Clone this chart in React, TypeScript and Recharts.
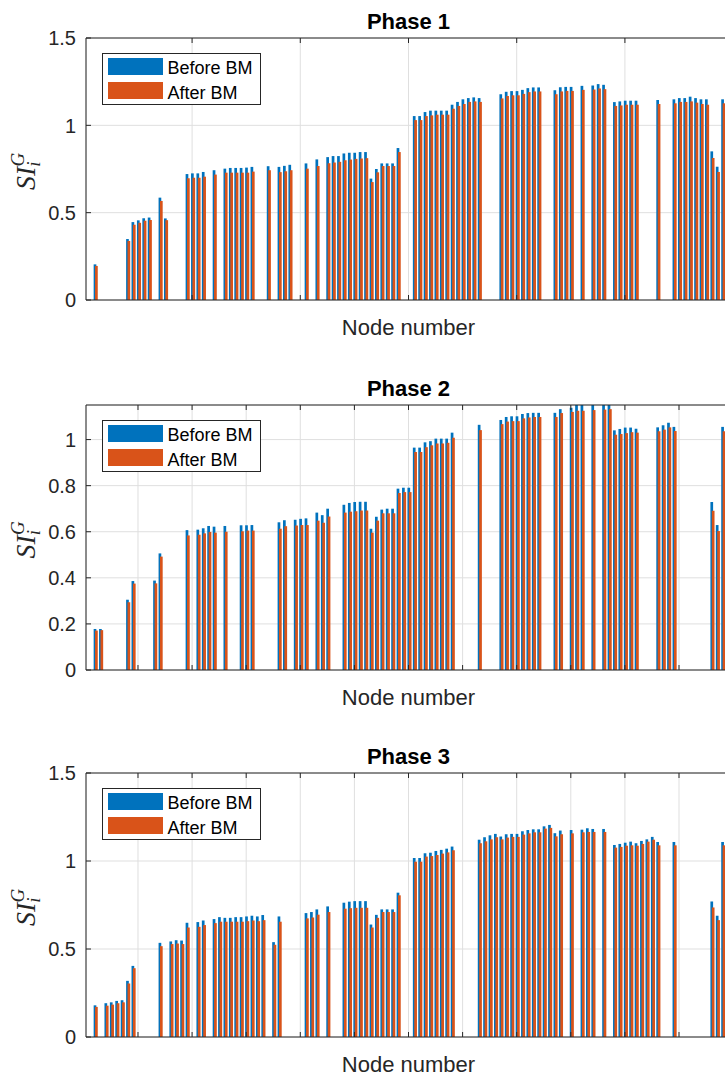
import React from 'react';
import { BarChart, Bar, XAxis, YAxis, CartesianGrid, Legend } from 'recharts';

// Node numbers 1..119 (x categories)
const nodeNumbers: number[] = Array.from({ length: 119 }, (_, i) => i + 1);

// ---------------- Phase 1 ----------------
const phase1Before: (number | null)[] = [
  null, 0.204, null, null, null, null, null, 0.349, 0.446, 0.456,
  0.468, 0.472, null, 0.586, 0.467, null, null, null, 0.721, 0.725,
  0.725, 0.733, null, 0.743, null, 0.752, 0.756, 0.756, 0.756, 0.758,
  0.762, null, null, 0.766, null, 0.762, 0.768, 0.774, null, null,
  0.782, null, 0.805, null, 0.818, 0.824, 0.824, 0.839, 0.843, 0.843,
  0.847, 0.847, 0.695, 0.750, 0.782, 0.782, 0.782, 0.870, null, null,
  1.053, 1.053, 1.076, 1.084, 1.084, 1.084, 1.084, 1.118, 1.134, 1.149,
  1.156, 1.160, 1.156, null, null, null, 1.178, 1.192, 1.196, 1.196,
  1.203, 1.213, 1.217, 1.217, null, null, 1.201, 1.218, 1.220, 1.220,
  null, 1.226, null, 1.228, 1.236, 1.232, null, 1.133, 1.137, 1.141,
  1.141, 1.141, null, null, null, 1.145, null, null, 1.149, 1.156,
  1.156, 1.164, 1.156, 1.149, 1.149, 0.851, 0.763, 1.149, null,
];
const phase1After: (number | null)[] = [
  null, 0.195, null, null, null, null, null, 0.338, 0.431, 0.442,
  0.454, 0.458, null, 0.567, 0.457, null, null, null, 0.697, 0.700,
  0.700, 0.706, null, 0.718, null, 0.729, 0.729, 0.729, 0.729, 0.729,
  0.735, null, null, 0.743, null, 0.732, 0.737, 0.743, null, null,
  0.752, null, 0.767, null, 0.783, 0.787, 0.791, 0.800, 0.804, 0.808,
  0.810, 0.812, 0.675, 0.731, 0.767, 0.767, 0.767, 0.847, null, null,
  1.030, 1.030, 1.053, 1.057, 1.061, 1.061, 1.061, 1.095, 1.111, 1.122,
  1.134, 1.137, 1.134, null, null, null, 1.154, 1.168, 1.172, 1.172,
  1.180, 1.190, 1.194, 1.194, null, null, 1.178, 1.194, 1.197, 1.197,
  null, 1.203, null, 1.205, 1.211, 1.207, null, 1.111, 1.114, 1.118,
  1.118, 1.118, null, null, null, 1.122, null, null, 1.126, 1.134,
  1.134, 1.137, 1.130, 1.122, 1.118, 0.813, 0.733, 1.126, null,
];

// ---------------- Phase 2 ----------------
const phase2Before: (number | null)[] = [
  null, 0.178, 0.178, null, null, null, null, 0.305, 0.386, null,
  null, null, 0.388, 0.506, null, null, null, null, 0.607, null,
  0.609, 0.615, 0.625, 0.622, null, 0.625, null, null, 0.628, 0.628,
  0.629, null, null, null, null, 0.641, 0.650, null, 0.652, 0.656,
  0.658, null, 0.683, 0.672, 0.700, null, null, 0.717, 0.725, 0.729,
  0.730, 0.730, 0.613, 0.665, 0.696, 0.700, 0.700, 0.787, 0.791, 0.791,
  0.965, 0.965, 0.988, 0.993, 1.004, 1.004, 1.004, 1.030, null, null,
  null, null, 1.064, null, null, null, 1.085, 1.098, 1.101, 1.101,
  1.111, 1.115, 1.116, 1.116, null, null, 1.116, 1.132, null, 1.138,
  1.152, 1.152, null, 1.155, null, 1.156, 1.158, 1.040, 1.046, 1.052,
  1.052, 1.047, null, null, null, 1.053, 1.062, 1.073, 1.055, null,
  null, null, null, null, null, 0.729, 0.629, 1.055, null,
];
const phase2After: (number | null)[] = [
  null, 0.171, 0.173, null, null, null, null, 0.294, 0.375, null,
  null, null, 0.376, 0.492, null, null, null, null, 0.584, null,
  0.587, 0.593, 0.599, 0.596, null, 0.600, null, null, 0.602, 0.605,
  0.605, null, null, null, null, 0.613, 0.624, null, 0.627, 0.629,
  0.629, null, 0.648, 0.639, 0.666, null, null, 0.683, 0.687, 0.689,
  0.692, 0.692, 0.596, 0.648, 0.680, 0.680, 0.680, 0.768, 0.772, 0.772,
  0.946, 0.946, 0.967, 0.975, 0.983, 0.983, 0.986, 1.008, null, null,
  null, null, 1.041, null, null, null, 1.067, 1.078, 1.080, 1.080,
  1.092, 1.096, 1.098, 1.098, null, null, 1.098, 1.115, null, 1.120,
  1.125, 1.125, null, 1.128, null, 1.130, 1.132, 1.021, 1.024, 1.028,
  1.032, 1.030, null, null, null, 1.036, 1.043, 1.053, 1.037, null,
  null, null, null, null, null, 0.691, 0.603, 1.036, null,
];

// ---------------- Phase 3 ----------------
const phase3Before: (number | null)[] = [
  null, 0.180, null, 0.192, 0.197, 0.205, 0.209, 0.319, 0.404, null,
  null, null, null, 0.535, null, 0.543, 0.550, 0.548, 0.649, null,
  0.653, 0.662, null, 0.670, 0.681, 0.677, 0.677, 0.681, 0.681, 0.685,
  0.689, 0.685, 0.693, null, 0.539, 0.685, null, null, null, null,
  0.704, 0.710, 0.725, null, 0.742, null, null, 0.763, 0.769, 0.772,
  0.772, 0.772, 0.639, 0.694, 0.725, 0.725, 0.725, 0.820, null, null,
  1.017, 1.017, 1.044, 1.047, 1.057, 1.063, 1.070, 1.082, null, null,
  null, null, 1.121, 1.135, 1.146, 1.154, 1.139, 1.152, 1.154, 1.154,
  1.169, 1.176, 1.180, 1.180, 1.197, 1.205, 1.158, 1.173, null, 1.176,
  null, 1.178, 1.186, 1.182, null, 1.182, null, 1.091, 1.097, 1.104,
  1.110, 1.101, 1.114, 1.123, 1.137, 1.108, null, null, 1.108, null,
  null, null, null, null, null, 0.770, 0.689, 1.108, null,
];
const phase3After: (number | null)[] = [
  null, 0.171, null, 0.178, 0.184, 0.192, 0.197, 0.304, 0.391, null,
  null, null, null, 0.516, null, 0.528, 0.531, 0.528, 0.622, null,
  0.626, 0.636, null, 0.647, 0.655, 0.655, 0.655, 0.655, 0.655, 0.658,
  0.662, 0.658, 0.664, null, 0.524, 0.655, null, null, null, null,
  0.674, 0.679, 0.695, null, 0.710, null, null, 0.729, 0.732, 0.734,
  0.734, 0.734, 0.622, 0.677, 0.710, 0.710, 0.710, 0.805, null, null,
  0.996, 0.996, 1.025, 1.028, 1.034, 1.042, 1.049, 1.061, null, null,
  null, null, 1.101, 1.112, 1.123, 1.135, 1.123, 1.133, 1.137, 1.137,
  1.150, 1.157, 1.163, 1.163, 1.184, 1.188, 1.140, 1.152, null, 1.157,
  null, 1.163, 1.165, 1.165, null, 1.165, null, 1.076, 1.080, 1.087,
  1.089, 1.087, 1.097, 1.110, 1.121, 1.089, null, null, 1.089, null,
  null, null, null, null, null, 0.736, 0.664, 1.089, null,
];

// Axis ticks
const yTicksWide = [0, 0.5, 1, 1.5];
const yTicksFine = [0, 0.2, 0.4, 0.6, 0.8, 1];
const xTicksCoarse = [20, 40, 60, 80, 100];
const xTicksFine = [10, 20, 30, 40, 50, 60, 70, 80, 90, 100, 110];
const seriesNames = ['Before BM', 'After BM'];

// Styles
const FONT = "'Liberation Sans', Arial, Helvetica, sans-serif";
const SERIF = "'Liberation Serif', 'Times New Roman', serif";
const AX = '#262626';
const BLUE = '#0072BD';
const ORANGE = '#D95319';
const GRID = '#dfdfdf';

const YAXIS_W = 86;
const PLOT_W = 645;
const CHART_W = 760;
const TOP_SPACE = 40;
const TOP_AXIS_H = 10;
const BOTTOM_AXIS_H = 45;
const X_DOMAIN: [number, number] = [0.39, 119.61];

const fmt = (v: number) => String(Number(v.toFixed(2)));

const YTick = (props: any) => {
  const { x, y, payload } = props;
  return (
    <g>
      <line x1={x} y1={y} x2={x + 5} y2={y} stroke={AX} strokeWidth={1} />
      <text x={x - 10} y={y} dy="0.36em" textAnchor="end" fontFamily={FONT} fontSize={20} fill={AX}>
        {fmt(payload.value)}
      </text>
    </g>
  );
};

const XTickBottom = (props: any) => {
  const { x, y } = props;
  return <line x1={x} y1={y} x2={x} y2={y - 5} stroke={AX} strokeWidth={1} />;
};

const XTickTop = (props: any) => {
  const { x, y } = props;
  return <line x1={x} y1={y} x2={x} y2={y + 5} stroke={AX} strokeWidth={1} />;
};

const makeTitle = (text: string) => (props: any) => {
  const vb = props.viewBox;
  return (
    <text
      x={vb.x + vb.width / 2}
      y={vb.y + vb.height - 9.5}
      textAnchor="middle"
      fontFamily={FONT}
      fontWeight="bold"
      fontSize={22}
      fill="#000"
    >
      {text}
    </text>
  );
};

const XLabel = (props: any) => {
  const vb = props.viewBox;
  return (
    <text x={vb.x + vb.width / 2} y={vb.y + 34.5} textAnchor="middle" fontFamily={FONT} fontSize={22} fill={AX}>
      Node number
    </text>
  );
};

const YLabel = (props: any) => {
  const vb = props.viewBox;
  const cy = vb.y + vb.height / 2 + 21;
  return (
    <text transform={`translate(35, ${cy}) rotate(-90)`} fontFamily={SERIF} fontStyle="italic" fontSize={28} fill={AX}>
      SI
      <tspan fontSize={19} dy={5}>i</tspan>
      <tspan fontSize={19} dx={-5} dy={-16}>G</tspan>
    </text>
  );
};

const LegendBox = () => (
  <div
    style={{
      position: 'relative',
      boxSizing: 'border-box',
      width: 159,
      height: 52.5,
      border: `1px solid ${AX}`,
      background: '#fff',
      fontFamily: FONT,
      fontSize: 18,
      color: '#000',
    }}
  >
    <div style={{ position: 'absolute', left: 5, top: 4.5, width: 55, height: 17, background: BLUE }} />
    <div style={{ position: 'absolute', left: 5, top: 28.5, width: 55, height: 17, background: ORANGE }} />
    <div style={{ position: 'absolute', left: 65, top: 4, lineHeight: '20px', whiteSpace: 'nowrap' }}>{seriesNames[0]}</div>
    <div style={{ position: 'absolute', left: 65, top: 29, lineHeight: '20px', whiteSpace: 'nowrap' }}>{seriesNames[1]}</div>
  </div>
);

const shiftedBar = (props: any) => {
  const { x, y, width, height, fill } = props;
  if (height == null || height <= 0) return <g />;
  return <rect x={x + 0.65} y={y} width={width} height={height} fill={fill} />;
};

type PanelProps = {
  title: string;
  before: (number | null)[];
  after: (number | null)[];
  yMax: number;
  yTicks: number[];
  xTicks: number[];
  plotTop: number;
  plotH: number;
};

const Panel = ({ title, before, after, yMax, yTicks, xTicks, plotTop, plotH }: PanelProps) => {
  const rows = nodeNumbers.map((n, i) => ({ node: n, before: before[i], after: after[i] }));
  const chartH = TOP_SPACE + plotH + BOTTOM_AXIS_H + 5;
  return (
    <div style={{ position: 'absolute', left: 0, top: plotTop - TOP_SPACE, width: CHART_W, height: chartH }}>
      <BarChart
        width={CHART_W}
        height={chartH}
        data={rows}
        margin={{ top: TOP_SPACE - TOP_AXIS_H, right: CHART_W - YAXIS_W - PLOT_W, bottom: 5, left: 0 }}
        barSize={2.7}
        barGap={-1.3}
      >
        <CartesianGrid stroke={GRID} strokeWidth={1} />
        <XAxis
          dataKey="node"
          type="number"
          domain={X_DOMAIN}
          allowDataOverflow
          ticks={xTicks}
          interval={0}
          tickSize={0}
          tickMargin={0}
          tickLine={false}
          tick={<XTickBottom />}
          height={BOTTOM_AXIS_H}
          axisLine={{ stroke: AX, strokeWidth: 1 }}
          label={XLabel}
        />
        <XAxis
          xAxisId="top"
          orientation="top"
          dataKey="node"
          type="number"
          domain={X_DOMAIN}
          allowDataOverflow
          ticks={xTicks}
          interval={0}
          tickSize={0}
          tickMargin={0}
          tickLine={false}
          tick={<XTickTop />}
          height={TOP_AXIS_H}
          axisLine={{ stroke: AX, strokeWidth: 1 }}
          label={makeTitle(title)}
        />
        <YAxis
          type="number"
          domain={[0, yMax]}
          allowDataOverflow
          ticks={yTicks}
          interval={0}
          width={YAXIS_W}
          tickSize={0}
          tickMargin={0}
          tickLine={false}
          tick={<YTick />}
          axisLine={{ stroke: AX, strokeWidth: 1 }}
          label={YLabel}
        />
        <Legend
          layout="horizontal"
          verticalAlign="middle"
          align="center"
          content={() => <LegendBox />}
          wrapperStyle={{ left: 101.5, top: TOP_SPACE + 15, width: 159, height: 52.5, margin: 0, padding: 0 }}
        />
        <Bar dataKey="before" name={seriesNames[0]} fill={BLUE} isAnimationActive={false} shape={shiftedBar} />
        <Bar dataKey="after" name={seriesNames[1]} fill={ORANGE} isAnimationActive={false} shape={shiftedBar} />
      </BarChart>
    </div>
  );
};

export default function App() {
  return (
    <div style={{ position: 'absolute', left: 0, top: 0, width: 725, height: 1079, overflow: 'hidden', background: '#fff' }}>
      <Panel title="Phase 1" before={phase1Before} after={phase1After} yMax={1.5} yTicks={yTicksWide} xTicks={xTicksCoarse} plotTop={37.5} plotH={262} />
      <Panel title="Phase 2" before={phase2Before} after={phase2After} yMax={1.15} yTicks={yTicksFine} xTicks={xTicksFine} plotTop={404.5} plotH={265} />
      <Panel title="Phase 3" before={phase3Before} after={phase3After} yMax={1.5} yTicks={yTicksWide} xTicks={xTicksFine} plotTop={772.5} plotH={264} />
    </div>
  );
}
